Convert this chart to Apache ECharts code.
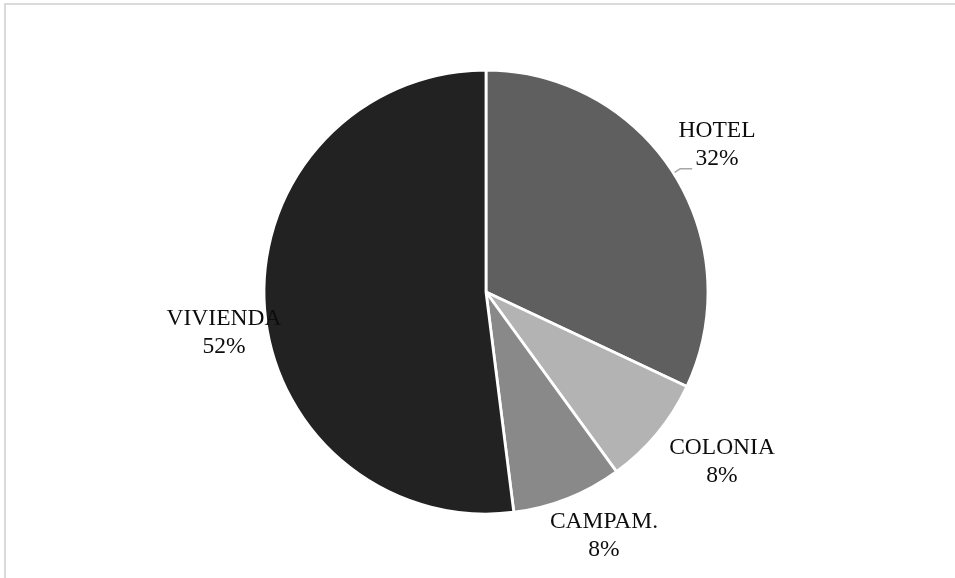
<!DOCTYPE html>
<html>
<head>
<meta charset="utf-8">
<style>
  html, body { margin: 0; padding: 0; background: #ffffff; }
  #chart { width: 955px; height: 578px; }
</style>
<script src="https://cdn.jsdelivr.net/npm/echarts@6/dist/echarts.min.js"></script>
</head>
<body>
<div id="chart"></div>
<script>
// Share of each category (percent)
const categories = ['HOTEL', 'COLONIA', 'CAMPAM.', 'VIVIENDA'];
const shares = [32, 8, 8, 52];

// Slice fills, in category order
const sliceColors = ['#5f5f5f', '#b3b3b3', '#898989', '#222222'];

// Label block centres, in category order
const labelCentres = [[717, 145], [722, 462], [604, 536], [224, 333]];

const chart = echarts.init(document.getElementById('chart'), null, { renderer: 'canvas' });

const data = categories.map((name, i) => ({
  name: name,
  value: shares[i],
  itemStyle: { color: sliceColors[i] },
  labelLine: { show: i === 0 }
}));

chart.setOption({
  animation: false,
  backgroundColor: '#ffffff',
  graphic: [{
    type: 'rect',
    silent: true,
    shape: { x: 5, y: 4, width: 1200, height: 1000 },
    style: { fill: 'none', stroke: '#dadada', lineWidth: 2 }
  }],
  series: [{
    type: 'pie',
    center: [486, 292],
    radius: 222,
    startAngle: 90,
    clockwise: true,
    avoidLabelOverlap: false,
    itemStyle: { borderColor: '#ffffff', borderWidth: 2.8 },
    emphasis: { disabled: true },
    label: {
      show: true,
      position: 'outside',
      formatter: function (p) { return p.name + '\n' + Math.round(p.value) + '%'; },
      fontFamily: '"Liberation Serif", "Times New Roman", serif',
      fontSize: 23.5,
      lineHeight: 28,
      color: '#0d0d0d',
      align: 'center'
    },
    labelLine: {
      length: 8,
      length2: 12,
      smooth: false,
      lineStyle: { color: '#a6a6a6', width: 1.5 }
    },
    labelLayout: function (params) {
      const c = labelCentres[params.dataIndex];
      const out = { x: c[0], y: c[1], align: 'center', verticalAlign: 'middle' };
      if (params.labelLinePoints) out.labelLinePoints = params.labelLinePoints;
      return out;
    },
    data: data
  }]
});
</script>
</body>
</html>
